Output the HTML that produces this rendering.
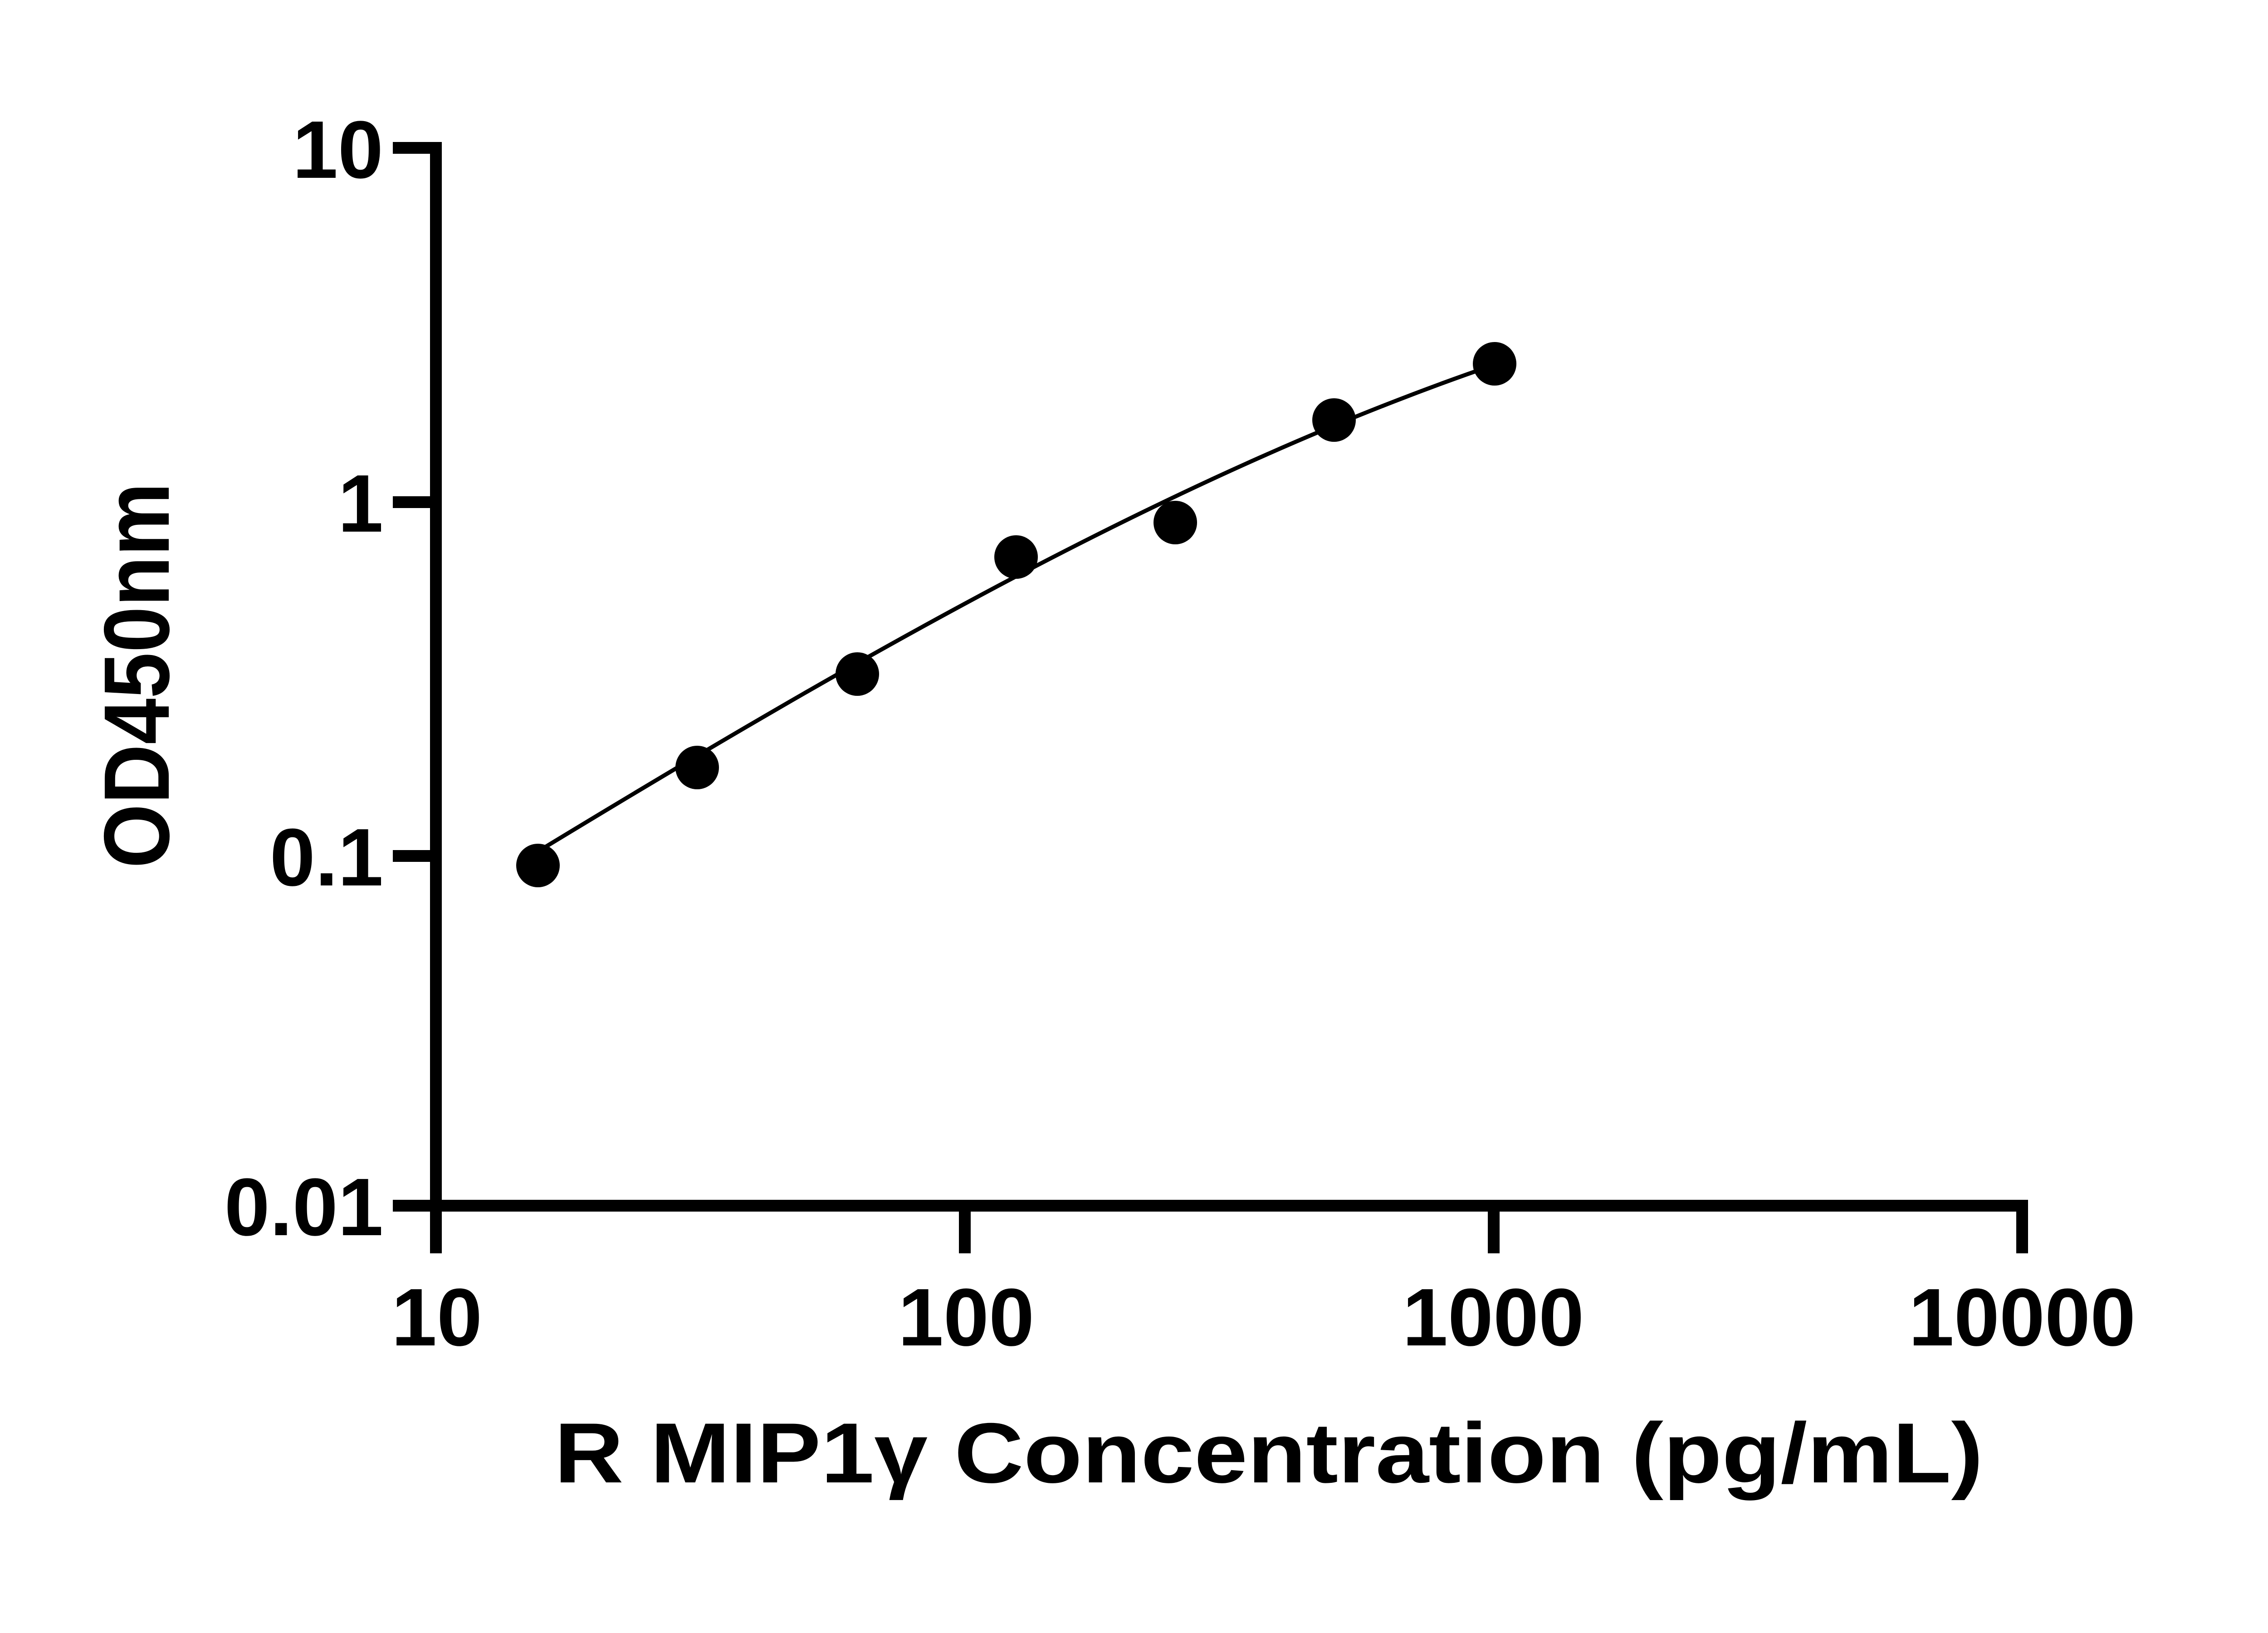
<!DOCTYPE html>
<html><head><meta charset="utf-8"><style>html,body{margin:0;padding:0;background:#fff}svg{display:block}</style></head>
<body>
<svg width="5142" height="3600" viewBox="0 0 5142 3600" xmlns="http://www.w3.org/2000/svg">
<g stroke="#000" stroke-width="26" fill="none" stroke-linecap="butt">
<path d="M866 326 H961 V2763"/>
<path d="M866 2658 H4458 V2763"/>
<path d="M866 1107 H961"/>
<path d="M866 1887 H961"/>
<path d="M2127 2658 V2763"/>
<path d="M3293 2658 V2763"/>
</g>
<g font-family="Liberation Sans, Arial, sans-serif" font-weight="bold" font-size="180" fill="#000">
<text x="845" y="392" text-anchor="end">10</text>
<text x="845" y="1172" text-anchor="end">1</text>
<text x="845" y="1952" text-anchor="end">0.1</text>
<text x="845" y="2723" text-anchor="end">0.01</text>
<text x="963" y="2966" text-anchor="middle">10</text>
<text x="2130" y="2966" text-anchor="middle">100</text>
<text x="3292" y="2966" text-anchor="middle">1000</text>
<text x="4458" y="2966" text-anchor="middle">10000</text>
</g>
<text x="1222" y="3268" font-family="Liberation Sans, Arial, sans-serif" font-weight="bold" font-size="188" textLength="3150" lengthAdjust="spacingAndGlyphs">R MIP1γ Concentration (pg/mL)</text>
<text transform="translate(372,1914) rotate(-90)" font-family="Liberation Sans, Arial, sans-serif" font-weight="bold" font-size="205" textLength="850" lengthAdjust="spacingAndGlyphs">OD450nm</text>
<path d="M1186 1877 C1889 1450 2590 1045 3295 804" stroke="#000" stroke-width="9" fill="none"/>
<g fill="#000">
<circle cx="1186" cy="1908" r="48"/>
<circle cx="1537" cy="1692" r="48"/>
<circle cx="1890" cy="1486" r="48"/>
<circle cx="2240" cy="1228" r="48"/>
<circle cx="2591" cy="1152" r="48"/>
<circle cx="2941" cy="926" r="48"/>
<circle cx="3295" cy="802" r="48"/>
</g>
</svg>
</body></html>
